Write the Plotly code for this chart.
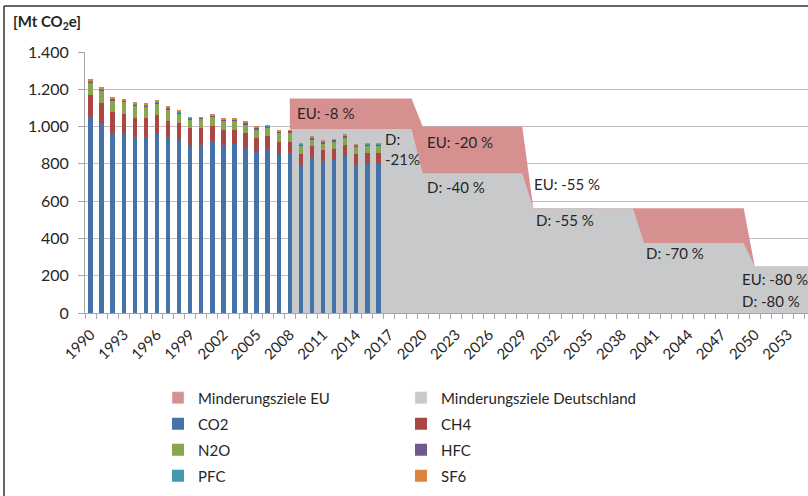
import plotly.graph_objects as go

years = list(range(1990, 2017))
co2 = [1053, 1017, 967, 958, 942, 942, 964, 937, 928, 897, 901, 921, 901, 906, 889, 871, 878, 853, 857,
       790, 835, 817, 824, 844, 794, 803, 803]
ch4 = [118, 111, 113, 111, 106, 106, 100, 95, 93, 97, 93, 84, 82, 77, 75, 69, 71, 66, 61,
       63, 61, 57, 54, 55, 59, 54, 54]
n2o = [68, 68, 62, 64, 64, 59, 59, 62, 50, 45, 47, 48, 47, 47, 48, 45, 45, 47, 49,
       43, 36, 36, 39, 40, 39, 39, 39]
hfc = [5, 5, 6, 6, 7, 7, 8, 7, 7, 6, 6, 8, 9, 8, 9, 9, 9, 9, 10,
       10, 10, 10, 11, 11, 9, 10, 10]
pfc = [3, 3, 3, 2, 4, 4, 5, 3, 2, 1, 1, 1, 1, 1, 1, 1, 1, 1, 1,
       1, 1, 1, 1, 1, 1, 1, 1]
sf6 = [4, 4, 5, 4, 6, 6, 6, 5, 4, 3, 2, 4, 3, 3, 3, 3, 3, 3, 3,
       4, 4, 4, 4, 4, 3, 4, 4]

# Reduction-target areas (Mt CO2e), sampled at category centres
target_years = [2008, 2019, 2020, 2029, 2030, 2039, 2040, 2049, 2050, 2055]
eu_target = [1150, 1150, 1000, 1000, 562, 562, 562, 562, 250, 250]
de_target = [987, 987, 750, 750, 562, 562, 375, 375, 250, 250]

tick_years = list(range(1990, 2054, 3))
y_ticks = [0, 200, 400, 600, 800, 1000, 1200, 1400]
y_ticktext = ["0", "200", "400", "600", "800", "1.000", "1.200", "1.400"]

labels = [
    ("EU: -8 %", 2008.47, 1073),
    ("D:<br>-21%", 2016.4, 882),
    ("EU: -20 %", 2020.2, 917),
    ("D: -40 %", 2020.2, 677),
    ("EU: -55 %", 2029.9, 692),
    ("D: -55 %", 2030.1, 499),
    ("D: -70 %", 2040.0, 323),
    ("EU: -80 %", 2048.7, 184),
    ("D: -80 %", 2048.7, 66),
]

C_EU = "#D79090"
C_DE = "#C8C9CB"
FONT = "Lato"
TXT = "#262626"

fig = go.Figure()

# areas on the base axes (drawn below the bars)
fig.add_trace(go.Scatter(x=target_years, y=eu_target, fill="tozeroy", mode="none",
                         fillcolor=C_EU, showlegend=False, hoverinfo="skip"))
fig.add_trace(go.Scatter(x=target_years, y=de_target, fill="tozeroy", mode="none",
                         fillcolor=C_DE, showlegend=False, hoverinfo="skip"))

# legend entries for the areas
fig.add_trace(go.Bar(x=[None], y=[None], name="Minderungsziele EU", marker_color=C_EU,
                     xaxis="x2", yaxis="y2", legend="legend"))
fig.add_trace(go.Bar(x=[None], y=[None], name="Minderungsziele Deutschland", marker_color=C_DE,
                     xaxis="x2", yaxis="y2", legend="legend"))

series = [("CO2", co2, "#4572A7", "legend2"), ("CH4", ch4, "#AA4643", "legend2"),
          ("N2O", n2o, "#89A54E", "legend3"), ("HFC", hfc, "#71588F", "legend3"),
          ("PFC", pfc, "#4198AF", "legend4"), ("SF6", sf6, "#DB843D", "legend4")]
for name, vals, col, lg in series:
    fig.add_trace(go.Bar(x=years, y=vals, name=name, marker_color=col, marker_line_width=0,
                         width=0.4, xaxis="x2", yaxis="y2", legend=lg))

PL, PT, PB, PR = 85, 52, 313, 808  # plot area in pixels
PW, PH = PR - PL, PB - PT
xr = [1989.5, 1989.5 + PW / 11.07]


def px_x(sx):
    return (sx - PL) / PW


def px_y(sy):
    return (PB - sy) / PH


for text, x, y in labels:
    fig.add_annotation(x=x, y=y, text=text, showarrow=False, xanchor="left", yanchor="middle",
                       align="left", font=dict(family=FONT, size=15, color=TXT), xref="x", yref="y")

fig.add_annotation(x=px_x(11), y=px_y(22), xref="paper", yref="paper",
                   text="<b>[Mt CO<sub>2</sub>e]</b>", showarrow=False, xanchor="left",
                   yanchor="middle", font=dict(family=FONT, size=15, color=TXT))

# chart frame (top and left edges)
fig.add_shape(type="line", xref="paper", yref="paper", x0=px_x(4), x1=1.02,
              y0=px_y(6), y1=px_y(6), line=dict(color="#333333", width=1.5))
fig.add_shape(type="line", xref="paper", yref="paper", x0=px_x(4), x1=px_x(4),
              y0=px_y(6), y1=px_y(520), line=dict(color="#333333", width=1.5))

axis_common = dict(showline=True, linecolor="#A6A6A6", linewidth=1)
fig.update_layout(
    width=808, height=496,
    margin=dict(l=PL, r=0, t=PT, b=496 - PB),
    paper_bgcolor="white", plot_bgcolor="white",
    barmode="stack",
    font=dict(family=FONT, size=15, color=TXT),
    xaxis=dict(range=xr, tickvals=tick_years, ticktext=[str(t) for t in tick_years],
               tickangle=-45, ticks="", showgrid=False, zeroline=False,
               minor=dict(tick0=1989.5, dtick=1, ticks="outside", ticklen=5,
                          tickcolor="#A6A6A6", showgrid=False),
               tickfont=dict(family=FONT, size=15, color=TXT), ticklabelstandoff=6,
               automargin=False, **axis_common),
    yaxis=dict(range=[0, 1400], tickvals=y_ticks, ticktext=y_ticktext, ticks="outside",
               ticklen=6, tickcolor="#A6A6A6", showgrid=True, gridcolor="#BFBFBF",
               gridwidth=1, zeroline=False, tickfont=dict(family=FONT, size=16, color=TXT),
               ticklabelstandoff=6, automargin=False, **axis_common),
    xaxis2=dict(range=xr, overlaying="x", visible=False),
    yaxis2=dict(range=[0, 1400], overlaying="y", visible=False),
)

leg_common = dict(orientation="h", xanchor="left", yanchor="middle", x=px_x(85 + 118 - 40 - 5),
                  entrywidth=198, entrywidthmode="pixels", traceorder="normal",
                  font=dict(family=FONT, size=15, color=TXT), bgcolor="rgba(0,0,0,0)")
row_px = [398, 424, 450, 476]
fig.update_layout(
    legend=dict(y=px_y(row_px[0]), **leg_common),
    legend2=dict(y=px_y(row_px[1]), **leg_common),
    legend3=dict(y=px_y(row_px[2]), **leg_common),
    legend4=dict(y=px_y(row_px[3]), **leg_common),
)

# remove the page's default 8px body margin so the figure sits at the window origin
fig.write_html("out.html", config={"displayModeBar": False},
               post_script="document.body.style.margin='0px';")
